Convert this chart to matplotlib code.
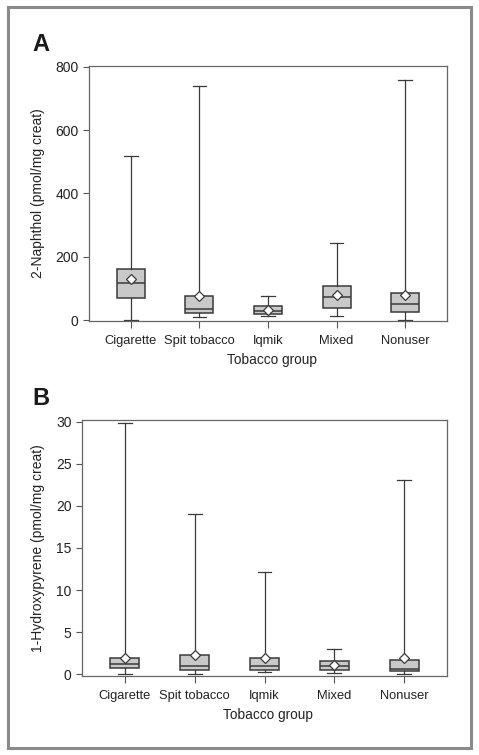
import matplotlib.pyplot as plt
from matplotlib.patches import Rectangle

plt.rcParams['font.family'] = ['Liberation Sans', 'DejaVu Sans']

groups = ["Cigarette", "Spit tobacco", "Iqmik", "Mixed", "Nonuser"]

# panel A: 2-Naphthol (pmol/mg creat)
naph_low = [1, 9, 13, 14, 1]
naph_q1 = [69, 24, 21, 40, 25]
naph_med = [119, 35, 28, 73, 50]
naph_q3 = [162, 76, 44, 108, 86]
naph_high = [519, 739, 78, 243, 758]
naph_mean = [130, 78, 34, 81, 81]

# panel B: 1-Hydroxypyrene (pmol/mg creat)
hyd_low = [0.02, 0.02, 0.24, 0.16, 0.02]
hyd_q1 = [0.79, 0.51, 0.47, 0.51, 0.36]
hyd_med = [1.23, 0.95, 0.95, 0.99, 0.67]
hyd_q3 = [1.9, 2.26, 1.94, 1.54, 1.66]
hyd_high = [29.9, 19.07, 12.19, 2.97, 23.07]
hyd_mean = [1.98, 2.33, 1.9, 1.07, 1.98]

line_col = "#3a3a3a"


def draw_panel(ax, low, q1, med, q3, high, mean, ylabel, yticks, ylim, ylab_x):
    stats = []
    for i in range(len(groups)):
        stats.append(dict(whislo=low[i], q1=q1[i], med=med[i], q3=q3[i],
                          whishi=high[i], mean=mean[i], fliers=[], label=groups[i]))
    ax.bxp(stats, positions=range(1, 6), widths=0.41, patch_artist=True,
           showmeans=True, showfliers=False,
           boxprops=dict(facecolor="#c9c9c9", edgecolor=line_col, linewidth=1.1),
           medianprops=dict(color=line_col, linewidth=1.1),
           whiskerprops=dict(color=line_col, linewidth=0.9),
           capprops=dict(color=line_col, linewidth=0.9),
           capwidths=0.2,
           meanprops=dict(marker="D", markersize=5, markerfacecolor="white",
                          markeredgecolor=line_col, markeredgewidth=0.9))
    ax.set_xlim(0.39, 5.61)
    ax.set_ylim(*ylim)
    ax.set_yticks(yticks)
    ax.set_ylabel(ylabel, fontsize=10, color="#222222")
    ax.yaxis.set_label_coords(ylab_x, 0.5)
    ax.set_xlabel("Tobacco group", fontsize=9.8, color="#222222")
    ax.xaxis.set_label_coords(0.51, -0.127)
    ax.tick_params(axis="both", colors="#555555", labelcolor="#222222",
                   length=4, width=0.8)
    ax.tick_params(axis="y", labelsize=10)
    ax.tick_params(axis="x", labelsize=9.3, length=5, pad=5)
    for s in ax.spines.values():
        s.set_color("#666666")
        s.set_linewidth(0.9)


fig = plt.figure(figsize=(4.79, 7.55), dpi=100)

ax1 = fig.add_axes([0.1858, 0.5748, 0.7474, 0.3378])
draw_panel(ax1, naph_low, naph_q1, naph_med, naph_q3, naph_high, naph_mean,
           "2-Naphthol (pmol/mg creat)", [0, 200, 400, 600, 800], (-2.2, 802), -0.123)

ax2 = fig.add_axes([0.1712, 0.1050, 0.7620, 0.3387])
draw_panel(ax2, hyd_low, hyd_q1, hyd_med, hyd_q3, hyd_high, hyd_mean,
           "1-Hydroxypyrene (pmol/mg creat)", [0, 5, 10, 15, 20, 25, 30], (-0.17, 30.2), -0.101)

fig.text(32 / 479, 1 - 51 / 755, "A", fontsize=17, fontweight="bold", color="#1a1a1a")
fig.text(32 / 479, 1 - 405 / 755, "B", fontsize=17, fontweight="bold", color="#1a1a1a")

# outer frame
fig.patches.append(Rectangle((8 / 479, 1 - 748 / 755), 463 / 479, 741 / 755,
                             transform=fig.transFigure, fill=False,
                             edgecolor="#8a8a8a", linewidth=2.2))

fig.savefig("out.png", dpi=100)
